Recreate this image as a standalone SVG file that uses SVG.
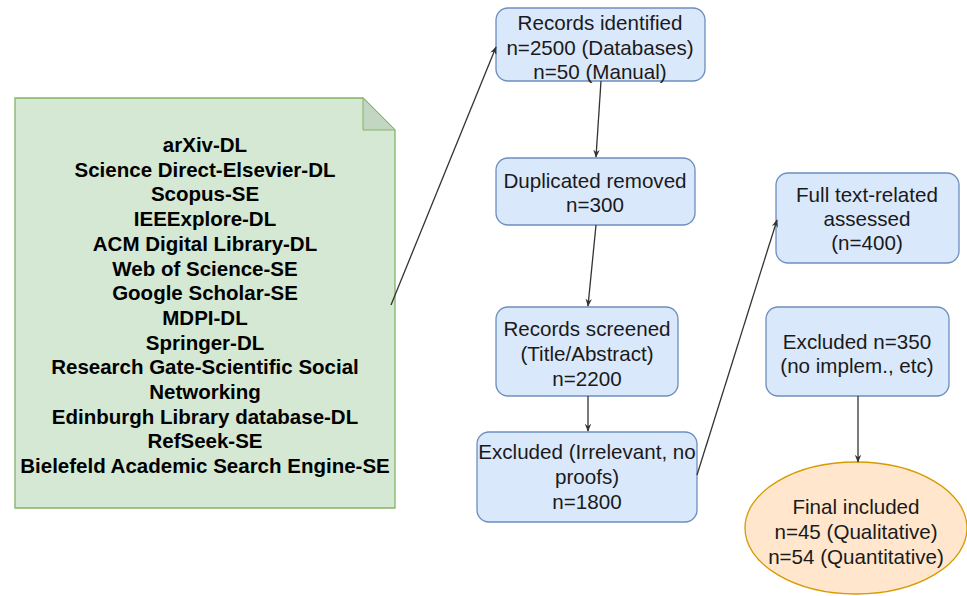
<svg xmlns="http://www.w3.org/2000/svg" width="967" height="596" viewBox="0 0 967 596">
<defs>
<style>
.box{fill:#dae8fc;stroke:#6c8ebf;stroke-width:1.3}
.t{font-family:"Liberation Sans",Arial,sans-serif;font-size:20.6px;fill:#1a1a1a;text-anchor:middle}
.b{font-weight:bold;fill:#000;font-size:20.5px}
.c{stroke:#333;stroke-width:1.3;fill:none;marker-end:url(#ah)}
</style>
<marker id="ah" viewBox="0 0 10 10" refX="9" refY="5" markerWidth="8" markerHeight="8" orient="auto" markerUnits="userSpaceOnUse">
<path d="M0,1 L10,5 L0,9 L3,5 Z" fill="#333"/>
</marker>
</defs>
<rect width="967" height="596" fill="#fff"/>
<g id="sources">
<path d="M15,98 H363 L395,130 V508 H15 Z" fill="#d5e8d4" stroke="#82b366" stroke-width="1.3"/>
<path d="M363,98 V130 H395 Z" fill="#c3d6c2" stroke="#82b366" stroke-width="1"/>
<text class="t b" x="205" y="152">arXiv-DL</text>
<text class="t b" x="205" y="176.7">Science Direct-Elsevier-DL</text>
<text class="t b" x="205" y="201.4">Scopus-SE</text>
<text class="t b" x="205" y="226.1">IEEExplore-DL</text>
<text class="t b" x="205" y="250.8">ACM Digital Library-DL</text>
<text class="t b" x="205" y="275.5">Web of Science-SE</text>
<text class="t b" x="205" y="300.2">Google Scholar-SE</text>
<text class="t b" x="205" y="324.9">MDPI-DL</text>
<text class="t b" x="205" y="349.6">Springer-DL</text>
<text class="t b" x="205" y="374.3">Research Gate-Scientific Social</text>
<text class="t b" x="205" y="399">Networking</text>
<text class="t b" x="205" y="423.7">Edinburgh Library database-DL</text>
<text class="t b" x="205" y="448.4">RefSeek-SE</text>
<text class="t b" x="205" y="473.1">Bielefeld Academic Search Engine-SE</text>
</g>
<g id="identified">
<rect class="box" x="496" y="8" width="209" height="73" rx="12"/>
<text class="t" x="600" y="30">Records identified</text>
<text class="t" x="600" y="54.5">n=2500 (Databases)</text>
<text class="t" x="600" y="79">n=50 (Manual)</text>
</g>
<g id="duplicates">
<rect class="box" x="496" y="158" width="199" height="67" rx="12"/>
<text class="t" x="595" y="188">Duplicated removed</text>
<text class="t" x="595" y="212">n=300</text>
</g>
<g id="screened">
<rect class="box" x="496" y="307" width="182" height="89" rx="12"/>
<text class="t" x="587" y="336">Records screened</text>
<text class="t" x="587" y="361">(Title/Abstract)</text>
<text class="t" x="587" y="386">n=2200</text>
</g>
<g id="excluded1">
<rect class="box" x="477" y="432" width="220" height="90" rx="12"/>
<text class="t" x="587" y="459">Excluded (Irrelevant, no</text>
<text class="t" x="587" y="484">proofs)</text>
<text class="t" x="587" y="509">n=1800</text>
</g>
<g id="fulltext">
<rect class="box" x="776" y="173" width="183" height="90" rx="12"/>
<text class="t" x="867" y="202">Full text-related</text>
<text class="t" x="867" y="226">assessed</text>
<text class="t" x="867" y="250">(n=400)</text>
</g>
<g id="excluded2">
<rect class="box" x="766" y="307" width="183" height="89" rx="12"/>
<text class="t" x="857" y="349">Excluded n=350</text>
<text class="t" x="857" y="373">(no implem., etc)</text>
</g>
<g id="final">
<ellipse cx="856" cy="528" rx="111" ry="66" fill="#ffe6cc" stroke="#d79b00" stroke-width="1.3"/>
<text class="t" x="856" y="514">Final included</text>
<text class="t" x="856" y="539">n=45 (Qualitative)</text>
<text class="t" x="856" y="564">n=54 (Quantitative)</text>
</g>
<g id="connectors">
<path class="c" d="M391,305 L496,47"/>
<path class="c" d="M601,81 L596,157"/>
<path class="c" d="M596,225 L588,306"/>
<path class="c" d="M588,396 L588,431"/>
<path class="c" d="M697,475 L777,220"/>
<path class="c" d="M858,396 L858,462"/>
</g>
</svg>
